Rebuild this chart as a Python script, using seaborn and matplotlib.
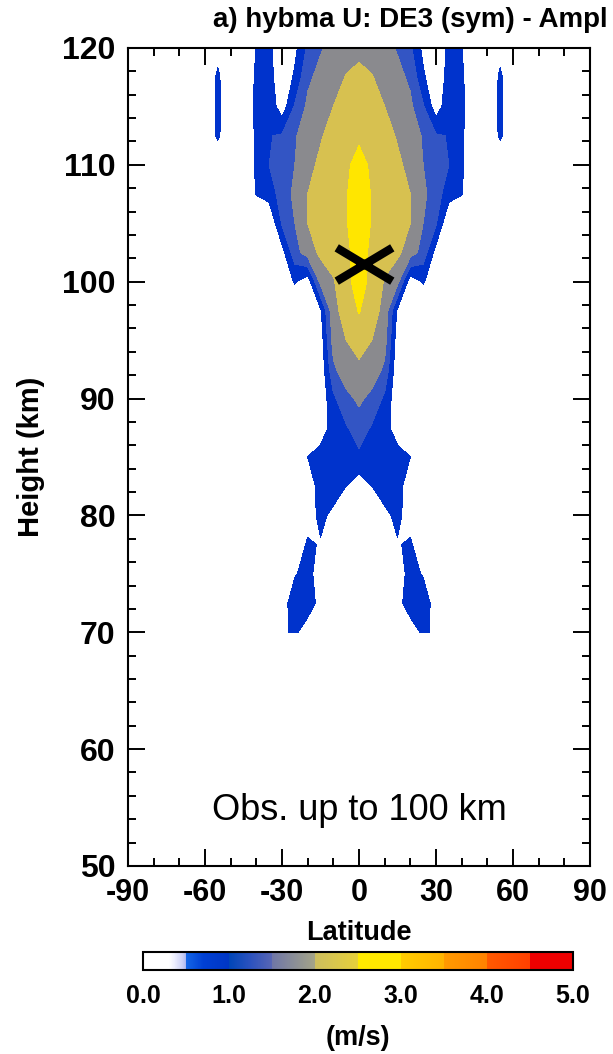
import numpy as np
import matplotlib
matplotlib.use("Agg")
import matplotlib.pyplot as plt
import seaborn as sns
from matplotlib.colors import LinearSegmentedColormap, Normalize
from matplotlib.cm import ScalarMappable
from matplotlib.path import Path
from matplotlib.ticker import MultipleLocator

# ---- data -----------------------------------------------------------------
# latitude nodes of the northern half (deg); the symmetric component is
# mirrored onto the southern half
LAT_N = [0, 5, 10, 15, 20, 25, 30, 35, 40, 45, 50, 55, 60]
# height levels (km)
HEIGHT = [70, 72.5, 75, 77.5, 80, 82.5, 85, 87.5, 90, 92.5, 95, 97.5,
          100, 102.5, 105, 107.5, 110, 112.5, 115, 117.5, 120]
# DE3 zonal-wind amplitude (m/s), one row per height level
AMP_N = [
    [0.00, 0.00, 0.00, 0.00, 0.20, 0.60, 0.40, 0.00, 0.00, 0, 0, 0.00, 0],  # 70
    [0.00, 0.00, 0.00, 0.30, 0.80, 0.85, 0.20, 0.00, 0.00, 0, 0, 0.00, 0],  # 72.5
    [0.00, 0.00, 0.00, 0.20, 0.70, 0.45, 0.00, 0.00, 0.00, 0, 0, 0.00, 0],  # 75
    [0.00, 0.00, 0.00, 0.45, 0.60, 0.00, 0.00, 0.00, 0.00, 0, 0, 0.00, 0],  # 77.5
    [0.00, 0.00, 0.35, 0.65, 0.20, 0.00, 0.00, 0.00, 0.00, 0, 0, 0.00, 0],  # 80
    [0.20, 0.50, 0.80, 0.70, 0.20, 0.00, 0.00, 0.00, 0.00, 0, 0, 0.00, 0],  # 82.5
    [0.90, 0.85, 0.80, 0.75, 0.50, 0.00, 0.00, 0.00, 0.00, 0, 0, 0.00, 0],  # 85
    [1.25, 0.95, 0.75, 0.15, 0.00, 0.00, 0.00, 0.00, 0.00, 0, 0, 0.00, 0],  # 87.5
    [1.60, 1.35, 0.90, 0.10, 0.00, 0.00, 0.00, 0.00, 0.00, 0, 0, 0.00, 0],  # 90
    [1.90, 1.80, 1.40, 0.10, 0.00, 0.00, 0.00, 0.00, 0.00, 0, 0, 0.00, 0],  # 92.5
    [2.20, 2.00, 1.70, 0.20, 0.00, 0.00, 0.00, 0.00, 0.00, 0, 0, 0.00, 0],  # 95
    [2.53, 2.20, 1.85, 0.40, 0.00, 0.00, 0.00, 0.00, 0.00, 0, 0, 0.00, 0],  # 97.5
    [2.65, 2.40, 1.95, 1.65, 0.20, 0.55, 0.15, 0.00, 0.00, 0, 0, 0.00, 0],  # 100
    [2.70, 2.40, 2.25, 2.10, 1.75, 1.30, 0.30, 0.00, 0.00, 0, 0, 0.00, 0],  # 102.5
    [2.75, 2.47, 2.35, 2.20, 2.00, 1.50, 1.05, 0.00, 0.00, 0, 0, 0.00, 0],  # 105
    [2.75, 2.47, 2.35, 2.20, 2.00, 1.60, 1.25, 0.70, 0.52, 0, 0, 0.00, 0],  # 107.5
    [2.60, 2.45, 2.30, 2.10, 1.85, 1.50, 1.20, 1.00, 0.60, 0, 0, 0.00, 0],  # 110
    [2.45, 2.40, 2.20, 1.95, 1.75, 1.45, 1.05, 0.98, 0.60, 0, 0, 0.60, 0],  # 112.5
    [2.30, 2.20, 2.00, 1.80, 1.60, 1.05, 0.20, 0.85, 0.65, 0, 0, 0.62, 0],  # 115
    [2.10, 2.02, 1.85, 1.65, 1.40, 0.60, 0.00, 0.75, 0.60, 0, 0, 0.60, 0],  # 117.5
    [1.90, 1.85, 1.65, 1.45, 1.10, 0.35, 0.00, 0.65, 0.52, 0, 0, 0.30, 0],  # 120
]

# location of the amplitude maximum marked with a cross
X_LAT, X_HEIGHT = 2.0, 101.5

LEVELS = [0.5, 1.0, 1.5, 2.0, 2.5, 3.0, 3.5, 4.0, 4.5, 5.0]
FILL_COLORS = ["#0033CC", "#3355C4", "#8A8A8E", "#D7C150", "#FFE600",
               "#FFC000", "#FF9000", "#FF5000", "#EE0000"]
# colour-bar colour table (value, colour)
CBAR_STOPS = [(0.0, "#FFFFFF"), (0.30, "#FFFFFF"), (0.36, "#EEF0FF"),
              (0.46, "#C8CEF6"), (0.5, "#A9B4F0"), (0.5, "#1466E6"),
              (0.7, "#0040D4"), (1.0, "#0036C4"), (1.0, "#0046B8"),
              (1.25, "#2C52BE"), (1.5, "#5866B4"), (1.5, "#6F76A6"),
              (2.0, "#A4A488"), (2.0, "#CDBE5E"), (2.5, "#E6D03A"),
              (2.5, "#FFEA00"), (3.0, "#FFE800"), (3.0, "#FFCC00"),
              (3.5, "#FFB400"), (3.5, "#FF9A00"), (4.0, "#FF8200"),
              (4.0, "#FF5A00"), (4.5, "#FF4000"), (4.5, "#EE0000"),
              (5.0, "#EE0000")]
CBAR_TICKS = [0.0, 1.0, 2.0, 3.0, 4.0, 5.0]

# ---- style ------------------------------------------------------------------
sns.set_style("ticks")
plt.rcParams["font.family"] = ["Liberation Sans", "DejaVu Sans"]
plt.rcParams["axes.linewidth"] = 1.5
for key in ("text.color", "axes.labelcolor", "xtick.color", "ytick.color",
            "axes.edgecolor"):
    plt.rcParams[key] = "black"

fig = plt.figure(figsize=(6.13, 10.54), dpi=100)
ax = fig.add_axes([0.2088, 0.1784, 0.7537, 0.7761])

lat_n = np.array(LAT_N, float)
amp_n = np.array(AMP_N, float)
lat_full = np.concatenate([-lat_n[:0:-1], lat_n])
amp_full = np.concatenate([amp_n[:, :0:-1], amp_n], axis=1)

ax.contourf(lat_full, HEIGHT, amp_full, levels=LEVELS, colors=FILL_COLORS)

cross = Path([(-1, -0.6), (1, 0.6), (-1, 0.6), (1, -0.6)],
             [Path.MOVETO, Path.LINETO, Path.MOVETO, Path.LINETO])
ax.plot([X_LAT], [X_HEIGHT], linestyle="none", marker=cross,
        markersize=40, markeredgewidth=6, color="black")

ax.set_xlim(-90, 90)
ax.set_ylim(50, 120)
ax.xaxis.set_major_locator(MultipleLocator(30))
ax.xaxis.set_minor_locator(MultipleLocator(10))
ax.yaxis.set_major_locator(MultipleLocator(10))
ax.yaxis.set_minor_locator(MultipleLocator(2))
ax.tick_params(which="both", direction="in", top=True, right=True,
               width=1.4, colors="black")
ax.tick_params(which="major", length=12, pad=9)
ax.tick_params(which="minor", length=6)
ax.tick_params(axis="x", which="major", labelsize=22)
ax.tick_params(axis="y", which="major", labelsize=23)
ax.set_xticks(ax.get_xticks())
ax.set_xticklabels([f"{int(v)}" for v in ax.get_xticks()], fontweight="bold")
ax.set_yticks(ax.get_yticks())
ax.set_yticklabels([f"{int(v)}" for v in ax.get_yticks()], fontweight="bold")
ax.set_xlim(-90, 90)
ax.set_ylim(50, 120)

ax.set_xlabel("Latitude", fontsize=19.5, fontweight="bold", labelpad=8)
ax.set_ylabel("Height (km)", fontsize=21, fontweight="bold", labelpad=12)

ax.text(0.5, 0.056, "Obs. up to 100 km", transform=ax.transAxes,
        ha="center", va="baseline", fontsize=26)

fig.text(0.669, 0.981, "a) hybma U: DE3 (sym) - Ampl", ha="center",
         va="center", fontsize=20, fontweight="bold")

# ---- colour bar ---------------------------------------------------------------
vmax = CBAR_STOPS[-1][0]
cbar_cmap = LinearSegmentedColormap.from_list(
    "de3_amp", [(v / vmax, c) for v, c in CBAR_STOPS], N=1024)
cax = fig.add_axes([0.2333, 0.0797, 0.7014, 0.0171])
cb = fig.colorbar(ScalarMappable(norm=Normalize(0, vmax), cmap=cbar_cmap),
                  cax=cax, orientation="horizontal")
cb.outline.set_linewidth(1.5)
cb.outline.set_edgecolor("black")
cb.set_ticks(CBAR_TICKS)
cb.set_ticklabels([f"{v:.1f}" for v in CBAR_TICKS])
cax.xaxis.set_minor_locator(MultipleLocator(0.5))
cax.tick_params(which="both", direction="in", top=True, bottom=True,
                length=3, width=1.2, colors="black")
cax.tick_params(which="major", labelsize=18, pad=10)
for lab in cax.get_xticklabels():
    lab.set_fontweight("bold")
cax.set_xlabel("(m/s)", fontsize=19.5, fontweight="bold", labelpad=12)

fig.savefig("out.png", dpi=100, facecolor="white")
